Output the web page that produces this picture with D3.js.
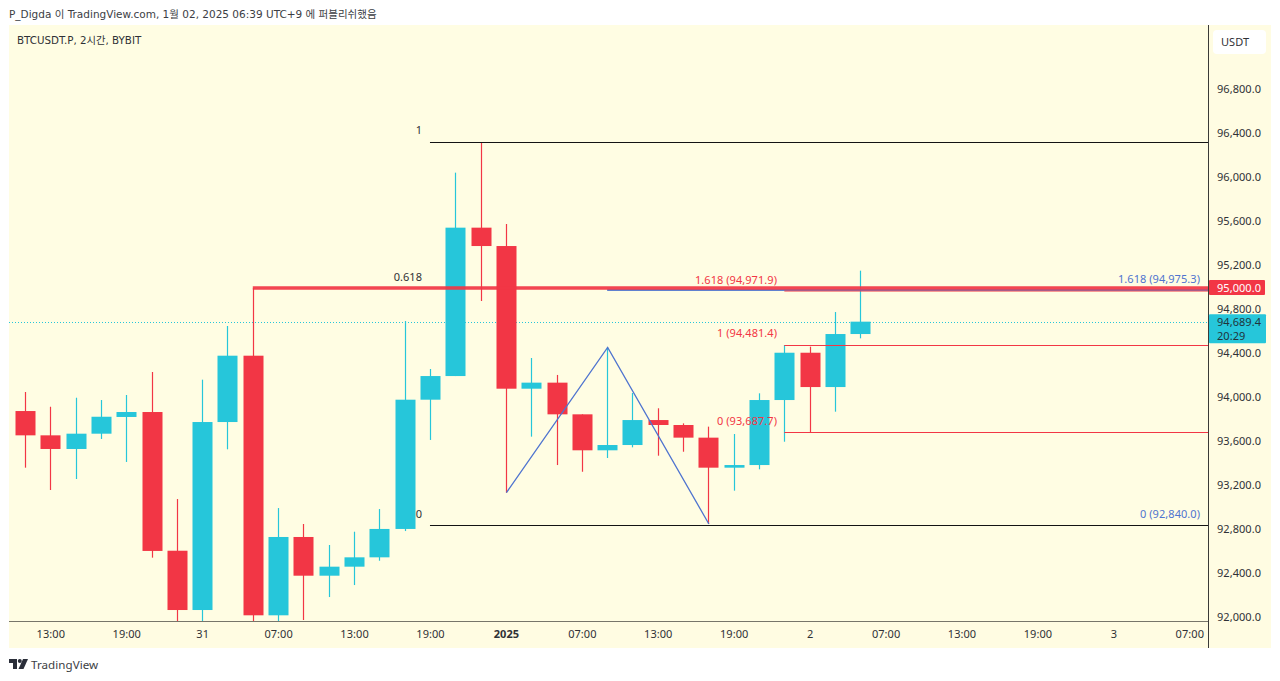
<!DOCTYPE html>
<html>
<head>
<meta charset="utf-8">
<script src="https://cdn.jsdelivr.net/npm/d3@7"></script>
<style>
    html, body { margin: 0; padding: 0; background: #fff; overflow: hidden; }
    text { font-family: "DejaVu Sans", "Noto Sans CJK KR", sans-serif; }
    text.num { font-family: "Noto Sans", sans-serif; font-size: 11px; letter-spacing: 0.05px; }
</style>
</head>
<body>
<div id="root"></div>
<script>
// candles, 2h bars
const opens = [93877, 93656, 93532, 93671, 93823, 93868, 92607, 92068, 93777, 94380, 92020, 92732, 92380, 92462, 92547, 92805, 93980, 94195, 95544, 95377, 94080, 94135, 93847, 93520, 93568, 93795, 93750, 93635, 93362, 93386, 93977, 94407, 94095, 94577];
const highs = [94050, 93916, 93998, 93977, 94023, 94232, 93077, 94162, 94650, 94995, 92995, 92850, 92659, 92780, 92986, 94695, 94259, 96044, 96316, 95577, 94359, 94205, 93847, 94456, 94041, 93902, 93765, 93735, 93668, 94038, 94477, 94462, 94777, 95153];
const lows = [93362, 93159, 93259, 93623, 93414, 92544, 91960, 91960, 93529, 91960, 91960, 91977, 92186, 92295, 92516, 92786, 93614, 94195, 94877, 93135, 93644, 93386, 93325, 93450, 93547, 93471, 93507, 92850, 93153, 93347, 93598, 93680, 93871, 94538];
const closes = [93656, 93532, 93671, 93825, 93868, 92605, 92068, 93777, 94380, 92020, 92732, 92380, 92462, 92547, 92805, 93980, 94195, 95544, 95377, 94080, 94135, 93847, 93520, 93568, 93795, 93750, 93635, 93362, 93386, 93977, 94407, 94095, 94577, 94689.4];

const priceTicks = [92000, 92400, 92800, 93200, 93600, 94000, 94400, 94800, 95200, 95600, 96000, 96400, 96800];
const timeTickBars = [1, 4, 7, 10, 13, 16, 19, 22, 25, 28, 31, 34, 37, 40, 43, 46];
const timeTickLabels = ['13:00', '19:00', '31', '07:00', '13:00', '19:00', '2025', '07:00', '13:00', '19:00', '2', '07:00', '13:00', '19:00', '3', '07:00'];

// zigzag drawing: bar index and price
const zigzagBars = [19, 23, 27];
const zigzagPrices = [93135, 94456, 92850];

const fibHigh = 96323, fibLow = 92840, fibMid = 95000, fibStartBar = 16, midStartBar = 9;
const blueExt = 94975.3, blueStartBar = 23;
const redLevels = [94971.9, 94481.4, 93687.7], redStartBar = 30;
const lastPrice = 94689.4;

const red = '#f23645', cyan = '#26c6da', paneColor = '#fffde3', axisColor = '#fffce2', textColor = '#2f3136', blue = '#4f74cf';

const width = 1280, height = 681,
    paneLeft = 9, paneRight = 1208, paneTop = 25, paneBottom = 621, axisRight = 1271, timeBottom = 648;

const x = d3.scaleLinear().domain([0, 46]).range([25, 1189.3]);
const y = d3.scaleLinear().domain([92000, 96800]).range([617.5, 89.5]);
const fmt = d3.format(',.1f');
const snap = v => Math.round(v) + 0.5;

const svg = d3.select('#root').append('svg')
    .attr('width', width).attr('height', height)
    .style('display', 'block');

svg.append('rect').attr('x', paneLeft).attr('y', paneTop)
    .attr('width', axisRight - paneLeft).attr('height', timeBottom - paneTop).attr('fill', axisColor);
svg.append('rect').attr('x', paneLeft).attr('y', paneTop)
    .attr('width', paneRight - paneLeft).attr('height', paneBottom - paneTop).attr('fill', paneColor);

svg.append('defs').append('clipPath').attr('id', 'pane').append('rect')
    .attr('x', paneLeft).attr('y', paneTop)
    .attr('width', paneRight - paneLeft).attr('height', paneBottom - paneTop);

let plot = svg.append('g').attr('clip-path', 'url(#pane)');

// last price dotted line
plot.append('line')
    .attr('x1', paneLeft).attr('x2', paneRight)
    .attr('y1', snap(y(lastPrice))).attr('y2', snap(y(lastPrice)))
    .attr('stroke', cyan).attr('stroke-width', 1).attr('stroke-dasharray', '1 2');

let candles = plot.selectAll('.candle').data(opens).enter().append('g').attr('class', 'candle');
candles.append('line')
    .attr('x1', (d, i) => Math.round(x(i)) + 0.5).attr('x2', (d, i) => Math.round(x(i)) + 0.5)
    .attr('y1', (d, i) => y(highs[i])).attr('y2', (d, i) => y(lows[i]))
    .attr('stroke', (d, i) => closes[i] >= d ? cyan : red).attr('stroke-width', 1.2);
candles.append('rect')
    .attr('x', (d, i) => Math.round(x(i)) - 9.5)
    .attr('width', 20)
    .attr('y', (d, i) => y(Math.max(d, closes[i])))
    .attr('height', (d, i) => Math.abs(y(d) - y(closes[i])))
    .attr('fill', (d, i) => closes[i] >= d ? cyan : red);

function level(price, startBar, color, strokeWidth, opacity, centered) {
    let py = centered ? Math.round(y(price)) : snap(y(price));
    plot.append('line')
        .attr('x1', x(startBar)).attr('x2', paneRight)
        .attr('y1', py).attr('y2', py)
        .attr('stroke', color).attr('stroke-width', strokeWidth).attr('opacity', opacity);
}

level(fibHigh, fibStartBar, '#131313', 1, 1);
level(fibLow, fibStartBar, '#131313', 1, 1);
level(blueExt, blueStartBar, blue, 2, 0.9, true);
level(redLevels[0], redStartBar, red, 2, 0.5, true);
level(redLevels[1], redStartBar, red, 1.2, 1);
level(redLevels[2], redStartBar, red, 1.2, 1);
level(fibMid, midStartBar, red, 3.5, 0.92, true);

plot.append('path')
    .datum(zigzagBars.map((b, i) => [b, zigzagPrices[i]]))
    .attr('fill', 'none').attr('stroke', blue).attr('stroke-width', 1.3)
    .attr('d', d3.line().x(d => x(d[0]) + 0.5).y(d => y(d[1])));

// drawing labels
function label(px, py, str, color) {
    svg.append('text').attr('class', 'num').attr('x', px).attr('y', py)
        .attr('text-anchor', 'end').attr('fill', color).text(str);
}
label(422, y(fibHigh) - 8, '1', textColor);
label(422, y(fibMid) - 7, '0.618', textColor);
label(422, y(fibLow) - 7, '0', textColor);
label(777, y(redLevels[0]) - 7, '1.618 (' + fmt(redLevels[0]) + ')', red);
label(777, y(redLevels[1]) - 8, '1 (' + fmt(redLevels[1]) + ')', red);
label(777, y(redLevels[2]) - 7, '0 (' + fmt(redLevels[2]) + ')', red);
label(1200, y(blueExt) - 7, '1.618 (' + fmt(blueExt) + ')', blue);
label(1200, y(fibLow) - 7, '0 (' + fmt(fibLow) + ')', blue);

// axes
let priceAxis = svg.append('g').attr('transform', 'translate(' + paneRight + ',0)')
    .call(d3.axisRight(y).tickValues(priceTicks).tickSize(0).tickPadding(9).tickFormat(fmt));
priceAxis.select('.domain').remove();
priceAxis.selectAll('text').attr('class', 'num').attr('dy', '0.23em').attr('fill', textColor);

let timeAxis = svg.append('g').attr('transform', 'translate(0,' + paneBottom + ')')
    .call(d3.axisBottom(x).tickValues(timeTickBars).tickSize(0).tickPadding(9).tickFormat((d, i) => timeTickLabels[i]));
timeAxis.select('.domain').remove();
timeAxis.selectAll('text').attr('class', 'num').attr('fill', textColor)
    .attr('font-weight', (d, i) => timeTickLabels[i] == '2025' ? 'bold' : 'normal');

svg.append('line').attr('x1', paneLeft).attr('x2', paneRight + 1)
    .attr('y1', paneBottom + 0.5).attr('y2', paneBottom + 0.5).attr('stroke', '#77756a').attr('stroke-width', 1);
svg.append('line').attr('x1', paneRight + 0.5).attr('x2', paneRight + 0.5)
    .attr('y1', paneTop).attr('y2', timeBottom).attr('stroke', '#3a3a38').attr('stroke-width', 1);

// price tags on the axis
svg.append('rect').attr('x', paneRight + 1).attr('y', y(fibMid) - 7.5)
    .attr('width', 56).attr('height', 15).attr('rx', 1).attr('fill', red);
svg.append('text').attr('class', 'num').attr('x', paneRight + 9).attr('y', y(fibMid) + 4)
    .attr('fill', '#fff').text(fmt(fibMid));

svg.append('rect').attr('x', paneRight + 1).attr('y', y(lastPrice) - 7.5)
    .attr('width', 57).attr('height', 29).attr('rx', 1).attr('fill', cyan);
svg.append('text').attr('class', 'num').attr('x', paneRight + 9).attr('y', y(lastPrice) + 4.5)
    .attr('fill', '#20343a').text(fmt(lastPrice));
svg.append('text').attr('class', 'num').attr('x', paneRight + 9).attr('y', y(lastPrice) + 18)
    .attr('fill', '#20343a').text('20:29');

// currency button
svg.append('rect').attr('x', 1213).attr('y', 30).attr('width', 53).attr('height', 24).attr('rx', 4).attr('fill', '#fff');
svg.append('text').attr('class', 'num').attr('x', 1221).attr('y', 46).attr('fill', textColor).text('USDT');

// titles
svg.append('text').attr('x', 9).attr('y', 18).attr('font-size', 10.5).attr('fill', '#3c3e44')
    .text('P_Digda 이 TradingView.com, 1월 02, 2025 06:39 UTC+9 에 퍼블리쉬했음');
svg.append('text').attr('x', 17).attr('y', 44).attr('font-size', 10.3).attr('fill', textColor)
    .text('BTCUSDT.P, 2시간, BYBIT');

// logo
let logo = svg.append('g').attr('transform', 'translate(9,659)').attr('fill', '#2a2e39');
logo.append('path').attr('d', 'M0 0H8V10H4V4H0Z');
logo.append('circle').attr('cx', 10.8).attr('cy', 2).attr('r', 2);
logo.append('path').attr('d', 'M14 0H19L14.5 10H9.5Z');
svg.append('text').attr('class', 'num').attr('x', 31).attr('y', 669).style('font-size', '11.6px').attr('fill', '#3c3e44').text('TradingView');
</script>
</body>
</html>
